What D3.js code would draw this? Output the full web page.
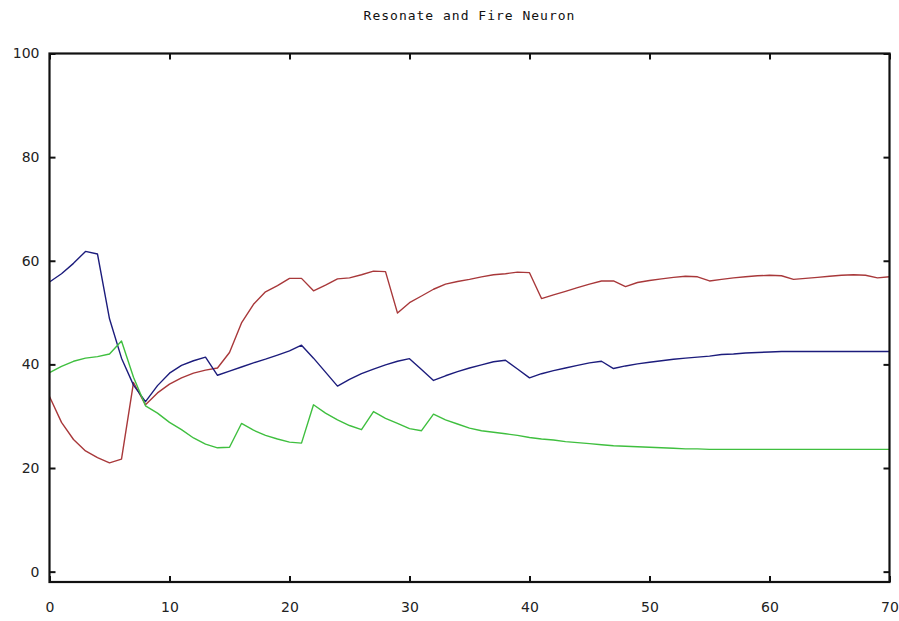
<!DOCTYPE html>
<html>
<head>
<meta charset="utf-8">
<script src="https://cdn.jsdelivr.net/npm/d3@7"></script>
<style>
  html, body { margin: 0; padding: 0; background: #fff; }
  svg { display: block; }
</style>
</head>
<body>
<svg id="chart" width="899" height="621"></svg>
<script>
// Simulation time steps (ms)
const time = d3.range(0, 71);

// Membrane variables sampled once per step
const redTrace = [
  33.8, 28.8, 25.5, 23.3, 22.0, 21.0, 21.7, 36.5, 32.2, 34.5,
  36.2, 37.4, 38.3, 38.9, 39.3, 42.3, 48.0, 51.6, 54.0, 55.2,
  56.6, 56.6, 54.2, 55.3, 56.5, 56.7, 57.3, 58.0, 57.9, 49.9,
  51.9, 53.2, 54.5, 55.5, 56.0, 56.4, 56.9, 57.3, 57.5, 57.8,
  57.7, 52.7, 53.4, 54.1, 54.8, 55.5, 56.1, 56.1, 55.0, 55.8,
  56.2, 56.5, 56.8, 57.0, 56.9, 56.1, 56.4, 56.7, 56.9, 57.1,
  57.2, 57.1, 56.4, 56.6, 56.8, 57.0, 57.2, 57.3, 57.2, 56.7,
  56.9
];

const blueTrace = [
  55.9, 57.5, 59.5, 61.8, 61.3, 48.8, 41.2, 36.0, 32.8, 35.9,
  38.3, 39.8, 40.7, 41.4, 37.9, 38.7, 39.5, 40.3, 41.0, 41.8,
  42.6, 43.7, 41.2, 38.5, 35.8, 37.1, 38.2, 39.1, 39.9, 40.6,
  41.1, 39.0, 36.9, 37.8, 38.6, 39.3, 39.9, 40.5, 40.8, 39.1,
  37.4, 38.2, 38.8, 39.3, 39.8, 40.3, 40.6, 39.2, 39.7, 40.1,
  40.4, 40.7, 41.0, 41.2, 41.4, 41.6, 41.9, 42.0, 42.2, 42.3,
  42.4, 42.5, 42.5, 42.5, 42.5, 42.5, 42.5, 42.5, 42.5, 42.5,
  42.5
];

const greenTrace = [
  38.4, 39.6, 40.6, 41.2, 41.5, 42.0, 44.5, 37.5, 32.0, 30.6,
  28.8, 27.4, 25.8, 24.6, 23.9, 24.0, 28.6, 27.3, 26.3, 25.6,
  25.0, 24.8, 32.2, 30.6, 29.3, 28.2, 27.4, 30.9, 29.6, 28.6,
  27.6, 27.2, 30.4, 29.3, 28.5, 27.7, 27.2, 26.9, 26.6, 26.3,
  25.9, 25.6, 25.4, 25.1, 24.9, 24.7, 24.5, 24.3, 24.2, 24.1,
  24.0, 23.9, 23.8, 23.7, 23.7, 23.6, 23.6, 23.6, 23.6, 23.6,
  23.6, 23.6, 23.6, 23.6, 23.6, 23.6, 23.6, 23.6, 23.6, 23.6,
  23.6
];

const xTicks = [0, 10, 20, 30, 40, 50, 60, 70];
const yTicks = [0, 20, 40, 60, 80, 100];
const chartTitle = "Resonate and Fire Neuron";

const series = [
  { values: redTrace,   color: "#a8383a" },
  { values: blueTrace,  color: "#1c1c7c" },
  { values: greenTrace, color: "#3fbf3f" }
];

const svg = d3.select("#chart");
const plotLeft = 49.5, plotRight = 889.5, plotTop = 53.5, plotBottom = 582;

const x = d3.scaleLinear().domain([0, 70]).range([plotLeft, plotRight]);
const y = d3.scaleLinear().domain([-2, 100]).range([plotBottom, plotTop]);

// Title
svg.append("text")
  .attr("x", (plotLeft + plotRight) / 2)
  .attr("y", 20)
  .attr("text-anchor", "middle")
  .attr("font-family", "DejaVu Sans Mono")
  .attr("font-size", 13)
  .attr("letter-spacing", 1)
  .attr("fill", "#111")
  .text(chartTitle);

// Data lines
const line = d3.line()
  .x((d, i) => x(time[i]))
  .y(d => y(d));

svg.append("g")
  .selectAll("path")
  .data(series)
  .join("path")
  .attr("d", d => line(d.values))
  .attr("fill", "none")
  .attr("stroke", d => d.color)
  .attr("stroke-width", 1.4)
  .attr("stroke-linejoin", "round");

// Axes with inward ticks, mirrored on opposite sides
const tickLen = 6;
const axisFont = g => g.selectAll("text")
  .attr("font-family", "DejaVu Sans")
  .attr("font-size", 14)
  .attr("fill", "#222");

const styleAxis = g => {
  g.select(".domain").remove();
  g.selectAll(".tick line").attr("stroke", "#111").attr("stroke-width", 2);
};

svg.append("g")
  .attr("transform", `translate(0,${plotBottom})`)
  .call(d3.axisBottom(x).tickValues(xTicks).tickSize(-tickLen).tickPadding(20).tickFormat(d3.format("d")))
  .call(styleAxis).call(axisFont);

svg.append("g")
  .attr("transform", `translate(0,${plotTop})`)
  .call(d3.axisTop(x).tickValues(xTicks).tickSize(-tickLen).tickFormat(""))
  .call(styleAxis);

svg.append("g")
  .attr("transform", `translate(${plotLeft},0)`)
  .call(d3.axisLeft(y).tickValues(yTicks).tickSize(-tickLen).tickPadding(10).tickFormat(d3.format("d")))
  .call(styleAxis).call(axisFont);

svg.append("g")
  .attr("transform", `translate(${plotRight},0)`)
  .call(d3.axisRight(y).tickValues(yTicks).tickSize(-tickLen).tickFormat(""))
  .call(styleAxis);

// Plot frame
svg.append("rect")
  .attr("x", plotLeft)
  .attr("y", plotTop)
  .attr("width", plotRight - plotLeft)
  .attr("height", plotBottom - plotTop)
  .attr("fill", "none")
  .attr("stroke", "#111")
  .attr("stroke-width", 2.2);
</script>
</body>
</html>
